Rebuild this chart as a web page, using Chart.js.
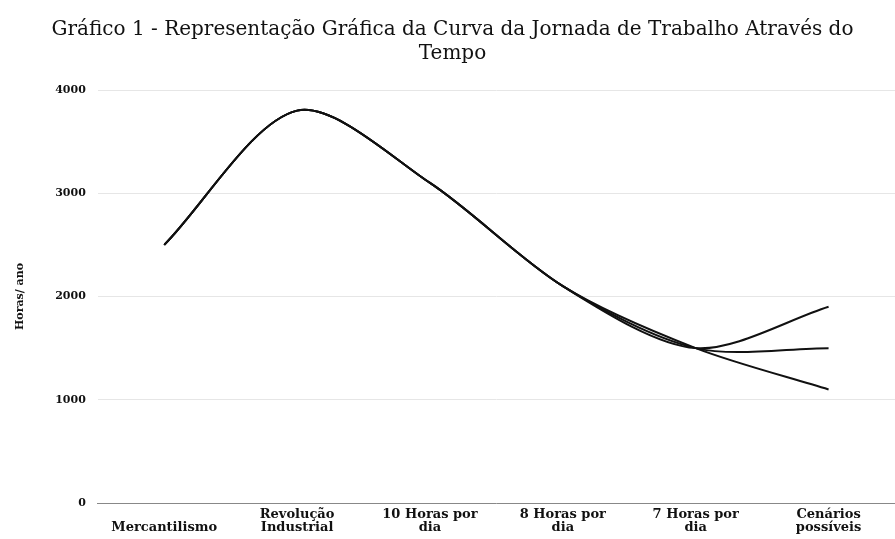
<!DOCTYPE html>
<html>
<head>
<meta charset="utf-8">
<script src="https://cdn.jsdelivr.net/npm/chart.js@4"></script>
<style>
  body { margin: 0; background: #fff; }
  #wrap { width: 895px; height: 539px; }
</style>
</head>
<body>
<div id="wrap"><canvas id="myChart"></canvas></div>
<script>
const categories = [
  ["", "Mercantilismo"],
  ["Revolução", "Industrial"],
  ["10 Horas por", "dia"],
  ["8 Horas por", "dia"],
  ["7 Horas por", "dia"],
  ["Cenários", "possíveis"]
];
const cenarioAlto = [2500, 3800, 3100, 2100, 1500, 1900];
const cenarioEstavel = [2500, 3800, 3100, 2100, 1500, 1500];
const cenarioBaixo = [2500, 3800, 3100, 2100, 1500, 1100];
const yTicks = [0, 1000, 2000, 3000, 4000];

const ctx = document.getElementById("myChart");
const serif = "'DejaVu Serif', serif";

function makeLine(label, data) {
  return {
    label: label,
    data: data,
    borderColor: "#111",
    borderWidth: 2,
    pointRadius: 0,
    tension: 0.3,
    fill: false
  };
}

new Chart(ctx, {
  type: "line",
  data: {
    labels: categories,
    datasets: [
      makeLine("Cenário 1", cenarioAlto),
      makeLine("Cenário 2", cenarioEstavel),
      makeLine("Cenário 3", cenarioBaixo)
    ]
  },
  options: {
    responsive: true,
    maintainAspectRatio: false,
    animation: false,
    layout: { padding: { left: 10, right: 0, top: 8, bottom: 0 } },
    plugins: {
      legend: { display: false },
      tooltip: { enabled: false },
      title: {
        display: true,
        text: ["Gráfico 1 - Representação Gráfica da Curva da Jornada de Trabalho Através do", "Tempo"],
        color: "#111",
        font: { family: serif, size: 20, weight: "normal" },
        lineHeight: 1.05,
        padding: { top: 10, bottom: 24 }
      }
    },
    scales: {
      x: {
        offset: true,
        grid: { display: false, drawTicks: false },
        border: { color: "#888", width: 1 },
        ticks: {
          color: "#111",
          font: { family: serif, size: 13, weight: "bold", lineHeight: 1.0 },
          maxRotation: 0,
          autoSkip: false,
          padding: 5
        }
      },
      y: {
        min: 0,
        max: 4000,
        afterBuildTicks: (axis) => {
          axis.ticks = yTicks.map((v) => ({ value: v }));
        },
        grid: { color: "#e6e6e6", drawTicks: false },
        border: { display: false },
        ticks: {
          color: "#111",
          font: { family: serif, size: 11, weight: "bold" },
          padding: 12,
          callback: (v) => String(v)
        },
        title: {
          display: true,
          text: "Horas/ ano",
          color: "#111",
          font: { family: serif, size: 11, weight: "bold" },
          padding: { bottom: 16 }
        }
      }
    }
  }
});
</script>
</body>
</html>
